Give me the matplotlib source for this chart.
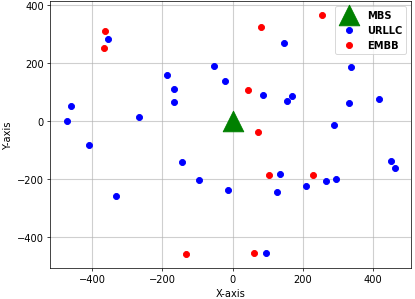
import matplotlib.pyplot as plt

# MBS position
mbs_x = [0]
mbs_y = [0]

# URLLC users
urllc_x = [-356, -186, -166, -166, -461, -472, -267, -410, 145, -54, 338, -23,
           85, 169, 156, 330, 415, 289, -143, -96, -333, -13, 135, 127, 210,
           266, 294, 451, 461, 96]
urllc_y = [282, 159, 111, 67, 51, -1, 13, -82, 269, 191, 186, 139,
           90, 87, 70, 61, 77, -12, -140, -203, -257, -237, -182, -246, -225,
           -207, -198, -138, -160, -454]

# EMBB users
embb_x = [-362, -365, 254, 81, 45, 71, -132, 104, 229, 61]
embb_y = [311, 251, 366, 326, 107, -39, -460, -185, -186, -454]

plt.rcParams["font.size"] = 11

fig, ax = plt.subplots(figsize=(6.385, 4.615), dpi=65)
fig.subplots_adjust(left=0.121, right=0.990, top=0.994, bottom=0.103)

ax.scatter(mbs_x, mbs_y, marker="^", s=520, color="green", label="MBS", zorder=3)
ax.scatter(urllc_x, urllc_y, s=45, color="blue", label="URLLC", zorder=3)
ax.scatter(embb_x, embb_y, s=45, color="red", label="EMBB", zorder=3)

ax.set_xlim(-519, 507)
ax.set_ylim(-507, 415)
ax.set_xticks([-400, -200, 0, 200, 400])
ax.set_yticks([-400, -200, 0, 200, 400])
ax.set_xlabel("X-axis")
ax.set_ylabel("Y-axis")
ax.grid(True, color="#b0b0b0", alpha=0.6, linewidth=1.2)
ax.legend(loc="upper right", prop={"weight": "bold"})

plt.savefig("out.png", dpi=65)
